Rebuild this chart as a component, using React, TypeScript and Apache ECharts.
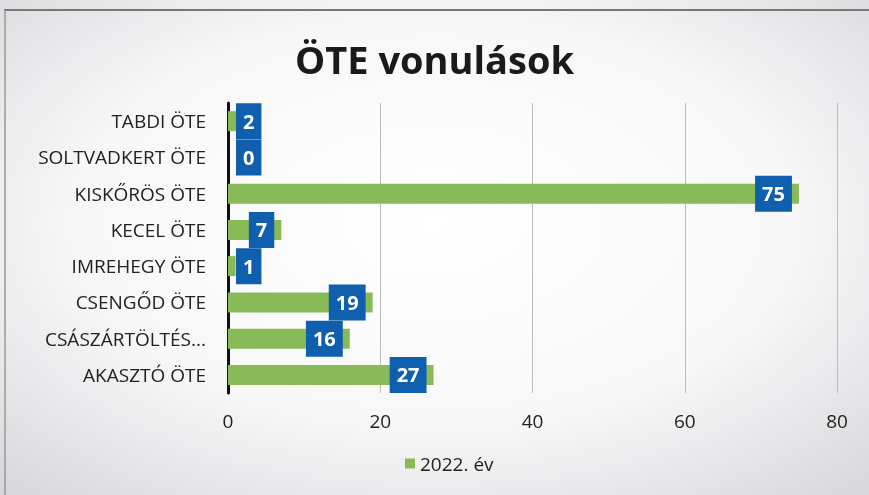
import React, { useEffect, useRef } from "react";
import * as echarts from "echarts";

const categories = [
  "TABDI ÖTE",
  "SOLTVADKERT ÖTE",
  "KISKŐRÖS ÖTE",
  "KECEL ÖTE",
  "IMREHEGY ÖTE",
  "CSENGŐD ÖTE",
  "CSÁSZÁRTÖLTÉS...",
  "AKASZTÓ ÖTE",
];
const values2022 = [2, 0, 75, 7, 1, 19, 16, 27];
const seriesName = "2022. év";
const xTicks = { min: 0, max: 80, interval: 20 };

export default function App() {
  const ref = useRef<HTMLDivElement>(null);
  useEffect(() => {
    if (!ref.current) return;
    const chart = echarts.init(ref.current, undefined, { renderer: "svg" });
    const font = "'Open Sans', sans-serif";
    const labelBase = {
      show: true,
      color: "#ffffff",
      fontFamily: font,
      fontWeight: "bold",
      fontSize: 20,
      lineHeight: 20,
      backgroundColor: "#0f5fae",
      padding: [8, 7],
    };
    chart.setOption({
      animation: false,
      backgroundColor: {
        type: "radial",
        x: 0.5,
        y: 0.45,
        r: 0.75,
        colorStops: [
          { offset: 0, color: "#ffffff" },
          { offset: 0.55, color: "#f7f7f8" },
          { offset: 1, color: "#d6d6da" },
        ],
      },
      title: {
        text: "ÖTE vonulások",
        left: "center",
        top: 35,
        textStyle: {
          fontFamily: font,
          fontWeight: "bold",
          fontSize: 38,
          color: "#1a1a1a",
        },
      },
      legend: {
        bottom: 17,
        left: 400,
        itemWidth: 10,
        itemHeight: 10,
        itemGap: 6,
        icon: "rect",
        textStyle: { fontFamily: font, fontSize: 19, color: "#222" },
        data: [seriesName],
      },
      grid: { left: 228, right: 32, top: 103, bottom: 102 },
      xAxis: {
        type: "value",
        min: xTicks.min,
        max: xTicks.max,
        interval: xTicks.interval,
        axisLine: { show: false },
        axisTick: { show: false },
        axisLabel: { fontFamily: font, fontSize: 19, color: "#222", margin: 18 },
        splitLine: { lineStyle: { color: "#bdbdbd", width: 1 } },
      },
      yAxis: {
        type: "category",
        inverse: true,
        data: categories,
        axisLine: { show: true, lineStyle: { color: "#111", width: 3 } },
        axisTick: { show: false },
        axisLabel: { fontFamily: font, fontSize: 19, color: "#222", margin: 22 },
      },
      graphic: [
        {
          type: "line",
          shape: { x1: 4, y1: 10, x2: 869, y2: 10 },
          style: { stroke: "#777", lineWidth: 2 },
        },
        {
          type: "line",
          shape: { x1: 5, y1: 10, x2: 5, y2: 495 },
          style: { stroke: "#999", lineWidth: 1.5 },
        },
      ],
      series: [
        {
          name: seriesName,
          type: "bar",
          barWidth: 20,
          itemStyle: { color: "#88bb58" },
          data: values2022.map((v) =>
            v < 5
              ? {
                  value: v,
                  label: {
                    ...labelBase,
                    position: [8, "50%"],
                    align: "left",
                    verticalAlign: "middle",
                  },
                }
              : { value: v }
          ),
          label: { ...labelBase, position: "insideRight", distance: 7 },
        },
      ],
    });
    return () => chart.dispose();
  }, []);
  return (
    <div
      ref={ref}
      style={{ position: "fixed", left: 0, top: 0, width: 869, height: 495 }}
    />
  );
}
